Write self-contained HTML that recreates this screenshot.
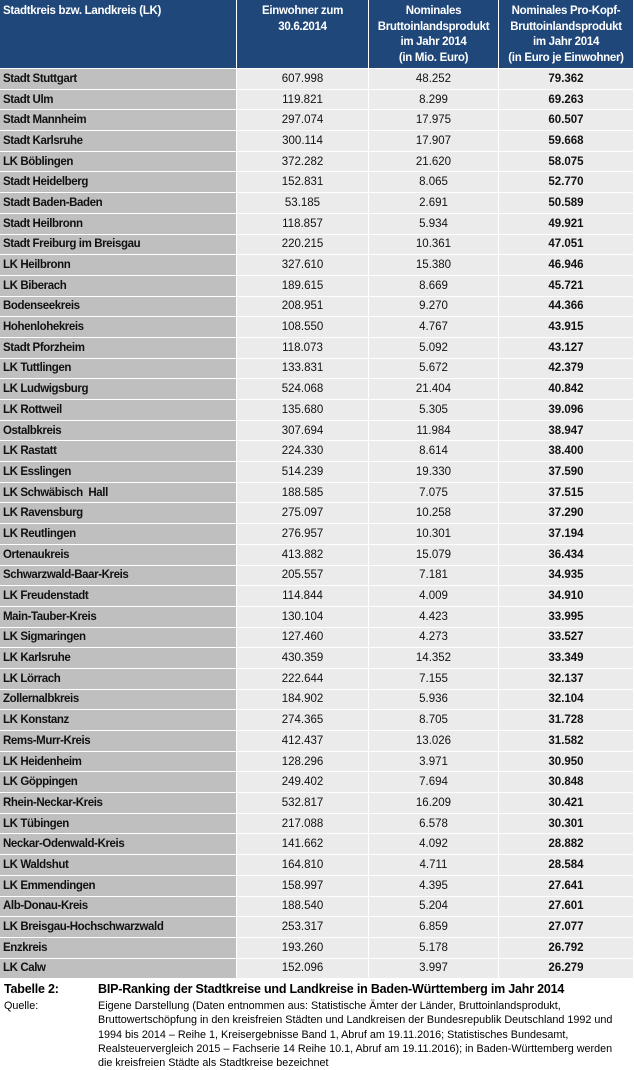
<!DOCTYPE html>
<html><head><meta charset="utf-8"><style>
body{margin:0;width:634px;height:1067px;background:#fff;font-family:"Liberation Sans",sans-serif;overflow:hidden}
.g{position:absolute;left:0;top:0;width:634px;display:grid;grid-template-columns:237px 132px 130px 135px;grid-template-rows:69px repeat(44,20.7px);gap:0}
.g div{box-sizing:border-box;border-right:1px solid #fff;border-bottom:1px solid #fff;font-size:11.5px;display:flex;align-items:center;justify-content:center;color:#111}
.g .h{background:#1f477a;color:#fff;font-weight:bold;text-align:center;align-items:flex-start;padding-top:4px;line-height:15.5px;font-size:11.5px;letter-spacing:-0.3px}
.g .h.l{justify-content:flex-start;padding-left:3px;text-align:left}
.g .n{background:#bfbfbf;font-weight:bold;justify-content:flex-start;padding-left:3px;letter-spacing:-0.4px}
.g .c{background:#ebebeb}
.g .b{background:#ebebeb;font-weight:bold}
.cap{position:absolute;left:4px;top:982px;font-weight:bold;font-size:12.5px;letter-spacing:-0.2px}
.cap span{position:absolute;left:94px;white-space:nowrap}
.q{position:absolute;left:4px;top:999px;font-size:10.8px;line-height:14.3px;letter-spacing:0}
.q .t{position:absolute;left:94px;width:540px;top:0;white-space:nowrap}
</style></head><body>
<div class="g" id="g">
<div class="h l">Stadtkreis bzw. Landkreis (LK)</div>
<div class="h">Einwohner zum<br>30.6.2014</div>
<div class="h">Nominales<br>Bruttoinlandsprodukt<br>im Jahr 2014<br>(in Mio. Euro)</div>
<div class="h">Nominales Pro-Kopf-<br>Bruttoinlandsprodukt<br>im Jahr 2014<br>(in Euro je Einwohner)</div>
</div>
<div class="cap">Tabelle 2:<span>BIP-Ranking der Stadtkreise und Landkreise in Baden-Württemberg im Jahr 2014</span></div>
<div class="q">Quelle:<div class="t">Eigene Darstellung (Daten entnommen aus: Statistische Ämter der Länder, Bruttoinlandsprodukt,<br>Bruttowertschöpfung in den kreisfreien Städten und Landkreisen der Bundesrepublik Deutschland 1992 und<br>1994 bis 2014 – Reihe 1, Kreisergebnisse Band 1, Abruf am 19.11.2016; Statistisches Bundesamt,<br>Realsteuervergleich 2015 – Fachserie 14 Reihe 10.1, Abruf am 19.11.2016); in Baden-Württemberg werden<br>die kreisfreien Städte als Stadtkreise bezeichnet</div></div>
<script>
var d=[["Stadt Stuttgart","607.998","48.252","79.362"],["Stadt Ulm","119.821","8.299","69.263"],["Stadt Mannheim","297.074","17.975","60.507"],["Stadt Karlsruhe","300.114","17.907","59.668"],["LK Böblingen","372.282","21.620","58.075"],["Stadt Heidelberg","152.831","8.065","52.770"],["Stadt Baden-Baden","53.185","2.691","50.589"],["Stadt Heilbronn","118.857","5.934","49.921"],["Stadt Freiburg im Breisgau","220.215","10.361","47.051"],["LK Heilbronn","327.610","15.380","46.946"],["LK Biberach","189.615","8.669","45.721"],["Bodenseekreis","208.951","9.270","44.366"],["Hohenlohekreis","108.550","4.767","43.915"],["Stadt Pforzheim","118.073","5.092","43.127"],["LK Tuttlingen","133.831","5.672","42.379"],["LK Ludwigsburg","524.068","21.404","40.842"],["LK Rottweil","135.680","5.305","39.096"],["Ostalbkreis","307.694","11.984","38.947"],["LK Rastatt","224.330","8.614","38.400"],["LK Esslingen","514.239","19.330","37.590"],["LK Schwäbisch&nbsp; Hall","188.585","7.075","37.515"],["LK Ravensburg","275.097","10.258","37.290"],["LK Reutlingen","276.957","10.301","37.194"],["Ortenaukreis","413.882","15.079","36.434"],["Schwarzwald-Baar-Kreis","205.557","7.181","34.935"],["LK Freudenstadt","114.844","4.009","34.910"],["Main-Tauber-Kreis","130.104","4.423","33.995"],["LK Sigmaringen","127.460","4.273","33.527"],["LK Karlsruhe","430.359","14.352","33.349"],["LK Lörrach","222.644","7.155","32.137"],["Zollernalbkreis","184.902","5.936","32.104"],["LK Konstanz","274.365","8.705","31.728"],["Rems-Murr-Kreis","412.437","13.026","31.582"],["LK Heidenheim","128.296","3.971","30.950"],["LK Göppingen","249.402","7.694","30.848"],["Rhein-Neckar-Kreis","532.817","16.209","30.421"],["LK Tübingen","217.088","6.578","30.301"],["Neckar-Odenwald-Kreis","141.662","4.092","28.882"],["LK Waldshut","164.810","4.711","28.584"],["LK Emmendingen","158.997","4.395","27.641"],["Alb-Donau-Kreis","188.540","5.204","27.601"],["LK Breisgau-Hochschwarzwald","253.317","6.859","27.077"],["Enzkreis","193.260","5.178","26.792"],["LK Calw","152.096","3.997","26.279"]];
var h="";d.forEach(function(r){h+='<div class="n">'+r[0]+'</div><div class="c">'+r[1]+'</div><div class="c">'+r[2]+'</div><div class="b">'+r[3]+'</div>';});
document.getElementById("g").insertAdjacentHTML("beforeend",h);
</script>
</body></html>
